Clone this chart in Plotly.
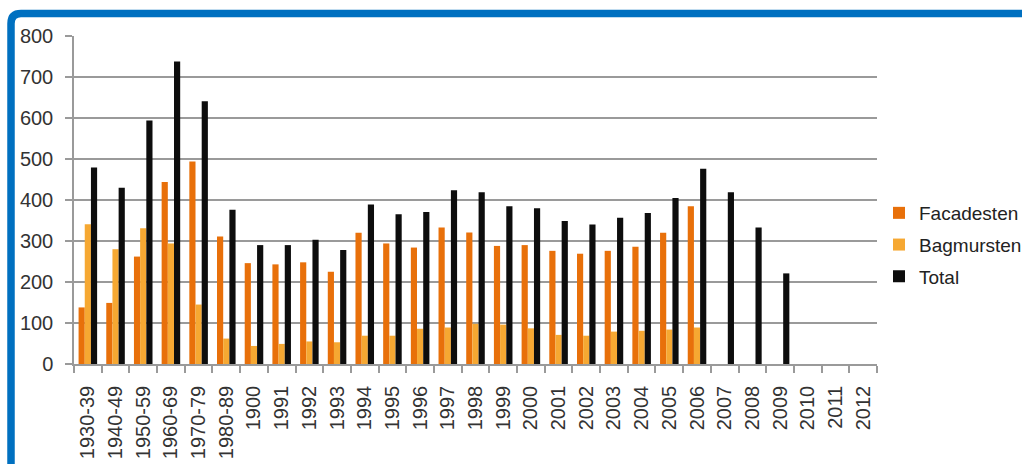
import plotly.graph_objects as go

categories = ["1930-39", "1940-49", "1950-59", "1960-69", "1970-79", "1980-89",
              "1900", "1991", "1992", "1993", "1994", "1995", "1996", "1997", "1998",
              "1999", "2000", "2001", "2002", "2003", "2004", "2005", "2006", "2007",
              "2008", "2009", "2010", "2011", "2012"]
facadesten = [138, 149, 262, 444, 494, 311, 246, 243, 248, 225, 320, 294, 284, 333, 321,
              288, 290, 276, 269, 276, 286, 320, 385, None, None, None, None, None, None]
bagmursten = [341, 280, 331, 294, 145, 62, 44, 49, 55, 53, 69, 69, 86, 89, 98,
              96, 87, 71, 69, 79, 81, 84, 89, None, None, None, None, None, None]
total = [479, 430, 594, 738, 641, 376, 290, 290, 303, 278, 389, 365, 371, 424, 419,
         385, 380, 349, 340, 357, 368, 405, 476, 419, 333, 221, None, None, None]
y_ticks = [0, 100, 200, 300, 400, 500, 600, 700, 800]

FONT = "Liberation Sans, Arial, Helvetica, sans-serif"
fig = go.Figure()
fig.add_trace(go.Bar(x=categories, y=facadesten, name="Facadesten", legendgroup="a",
                     marker=dict(color="#E8700A", line=dict(width=0))))
fig.add_trace(go.Bar(x=categories, y=bagmursten, name="Bagmursten", legendgroup="b",
                     marker=dict(color="#F6A832", line=dict(width=0))))
fig.add_trace(go.Bar(x=categories, y=total, name="Total", legendgroup="c",
                     marker=dict(color="#0D0D0D", line=dict(width=0))))

L, R, T, B = 74, 145, 36, 100
W, H = 1022, 464
pw, ph = W - L - R, H - T - B

def px(x):
    return (x - L) / pw

def py(y):
    return (H - B - y) / ph

x0, xr, x1 = px(11), px(21), px(1040)
y0, yr, y1 = py(13.5), py(23.5), py(480)
path = f"M{x0},{y1} L{x0},{yr} Q{x0},{y0} {xr},{y0} L{x1},{y0}"

fig.update_layout(
    width=W, height=H,
    margin=dict(l=L, r=R, t=T, b=B, pad=0, autoexpand=False),
    paper_bgcolor="white", plot_bgcolor="white",
    barmode="group", bargap=0.33, bargroupgap=0,
    font=dict(family=FONT, size=20, color="#333333"),
    xaxis=dict(
        type="category", categoryorder="array", categoryarray=categories,
        tickangle=-90, tickson="boundaries", ticks="outside", ticklen=7,
        tickcolor="#9a9a9a", tickwidth=1.5,
        showline=True, linecolor="#9a9a9a", linewidth=1.5,
        showgrid=False, tickfont=dict(size=20, color="#333333"),
        range=[-0.5, len(categories) - 0.5], automargin=False,
        ticklabelstandoff=12,
    ),
    yaxis=dict(
        range=[0, 800], tickvals=y_ticks, ticks="outside", ticklen=7,
        tickcolor="#9a9a9a", tickwidth=1.5,
        showline=True, linecolor="#9a9a9a", linewidth=1.5,
        showgrid=True, gridcolor="#9a9a9a", gridwidth=1.5,
        zeroline=False, tickfont=dict(size=20, color="#333333"),
        ticklabelstandoff=8, automargin=False,
    ),
    legend=dict(x=px(879), xanchor="left", y=py(245), yanchor="middle",
                font=dict(size=19, color="#222222"), bgcolor="rgba(0,0,0,0)",
                itemwidth=30, traceorder="grouped", tracegroupgap=4),
    shapes=[dict(type="path", xref="paper", yref="paper", path=path,
                 line=dict(color="#0070C0", width=7.5), layer="above")],
    showlegend=True,
)

fig.write_html("out.html")
